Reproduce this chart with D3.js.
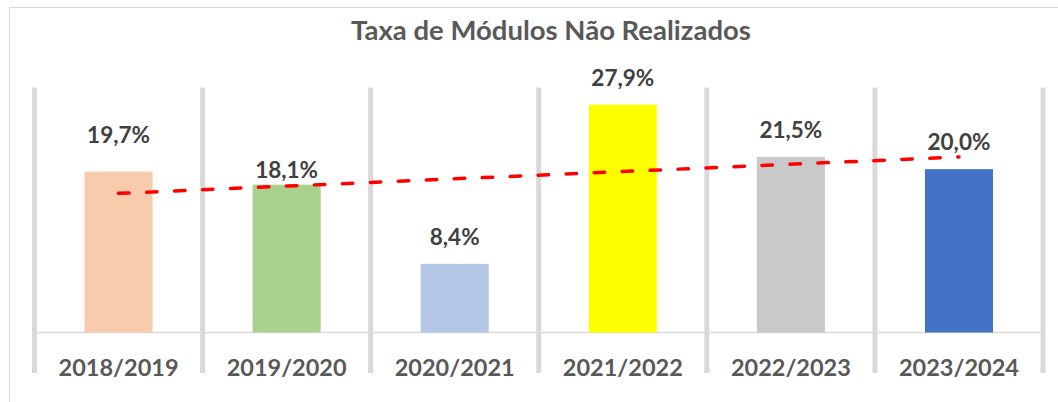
<!DOCTYPE html>
<html>
<head>
<meta charset="utf-8">
<script src="https://cdn.jsdelivr.net/npm/d3@7"></script>
<style>
  html, body { margin: 0; padding: 0; background: #fff; }
  svg { display: block; font-family: Lato, "Open Sans", sans-serif; }
</style>
</head>
<body>
<svg id="chart" width="1058" height="402"></svg>
<script>
// chart data
const categories = ['2018/2019', '2019/2020', '2020/2021', '2021/2022', '2022/2023', '2023/2024'];
const values = [19.7, 18.1, 8.4, 27.9, 21.5, 20.0];
const barColors = ['#F8CBAD', '#A9D18E', '#B4C7E7', '#FFFF00', '#C9C9C9', '#4472C4'];
const labelShift = [-10, 12, 0, 0, 0, 0]; // manual nudges of the data labels
const title = 'Taxa de Módulos Não Realizados';

const svg = d3.select('#chart');
const margin = { left: 34.5, right: 1043, top: 87.5, bottom: 332.5 };

// frame of the chart
svg.append('rect')
    .attr('x', 9.5).attr('y', 7.5)
    .attr('width', 1200).attr('height', 600)
    .attr('fill', 'none')
    .attr('stroke', '#d9d9d9');

const x = d3.scaleBand().domain(categories).range([margin.left, margin.right]);
const y = d3.scaleLinear().domain([0, 30]).range([margin.bottom, margin.top]);

// category separators
const bounds = categories.map(c => x(c)).concat([margin.right]);
svg.append('g').selectAll('line')
    .data(bounds)
    .join('line')
    .attr('x1', d => d).attr('x2', d => d)
    .attr('y1', margin.top).attr('y2', 373)
    .attr('stroke', '#d9d9d9')
    .attr('stroke-width', 5);

// axis line
svg.append('line')
    .attr('x1', margin.left).attr('x2', margin.right)
    .attr('y1', y(0)).attr('y2', y(0))
    .attr('stroke', '#d9d9d9')
    .attr('stroke-width', 1.5);

const barW = x.bandwidth() * 0.405;
const cx = c => x(c) + x.bandwidth() / 2;

svg.append('g').selectAll('rect')
    .data(values)
    .join('rect')
    .attr('x', (d, i) => cx(categories[i]) - barW / 2)
    .attr('y', d => y(d))
    .attr('width', barW)
    .attr('height', d => y(0) - y(d))
    .attr('fill', (d, i) => barColors[i]);

// linear trend line
const n = values.length;
const mx = d3.mean(values, (d, i) => i + 1);
const my = d3.mean(values);
const slope = d3.sum(values, (d, i) => (i + 1 - mx) * (d - my)) / d3.sum(values, (d, i) => (i + 1 - mx) ** 2);
const trend = values.map((d, i) => [cx(categories[i]), y(my + slope * (i + 1 - mx))]);
svg.append('path')
    .attr('d', d3.line()([trend[0], trend[n - 1]]))
    .attr('fill', 'none')
    .attr('stroke', '#FF0000')
    .attr('stroke-width', 3.5)
    .attr('stroke-linecap', 'round')
    .attr('stroke-dasharray', '10.5,17.5');

// data labels
svg.append('g').selectAll('text')
    .data(values)
    .join('text')
    .attr('x', (d, i) => cx(categories[i]))
    .attr('y', (d, i) => y(d) - 19 + labelShift[i])
    .attr('text-anchor', 'middle')
    .attr('font-size', '22.5px')
    .attr('font-weight', 'bold')
    .attr('fill', '#404040')
    .text(d => d.toFixed(1).replace('.', ',') + '%');

// category labels
svg.append('g').selectAll('text')
    .data(categories)
    .join('text')
    .attr('x', d => cx(d))
    .attr('y', 376)
    .attr('text-anchor', 'middle')
    .attr('font-size', '23.5px')
    .attr('font-weight', 'bold')
    .attr('fill', '#595959')
    .text(d => d);

svg.append('text')
    .attr('x', 551)
    .attr('y', 40)
    .attr('text-anchor', 'middle')
    .attr('font-size', '27.5px')
    .attr('font-weight', 'bold')
    .attr('fill', '#595959')
    .text(title);
</script>
</body>
</html>
